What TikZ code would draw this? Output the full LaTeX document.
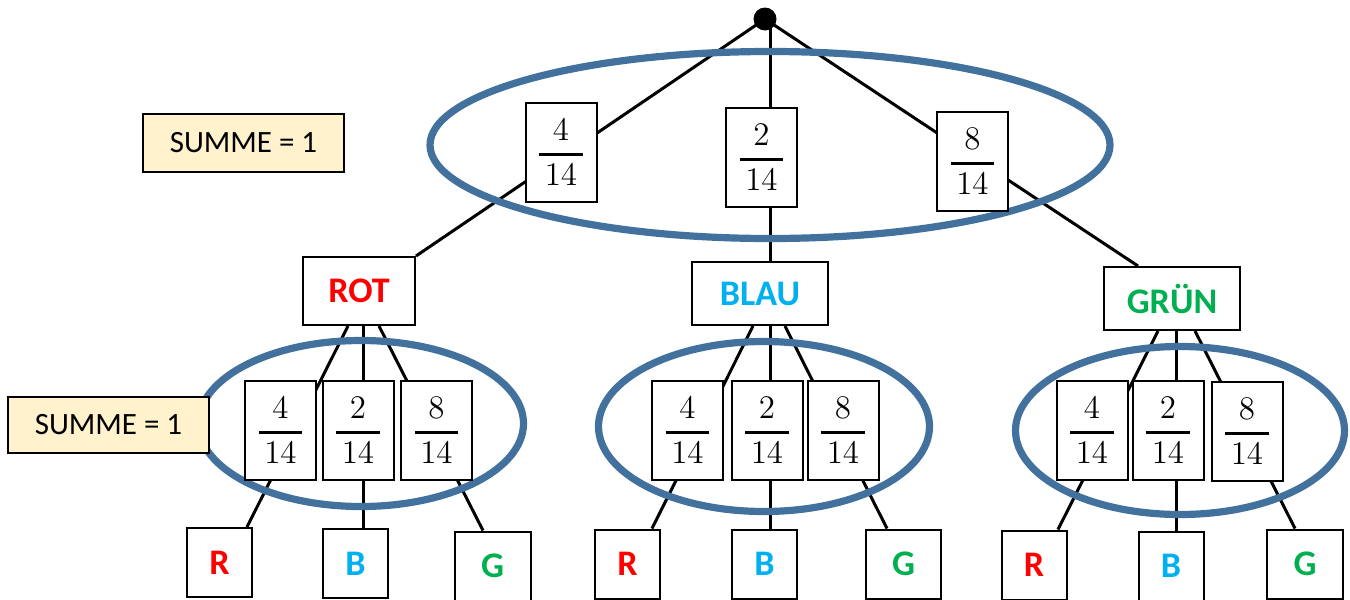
\RequirePackage{fix-cm}
\documentclass[tikz,border=0pt]{standalone}
\usepackage{amsmath}
\usepackage{fontspec}
\setmainfont{Carlito}
\usetikzlibrary{calc}
\pgfdeclarelayer{bg}
\pgfdeclarelayer{mid}
\pgfsetlayers{bg,mid,main}
\definecolor{ellblue}{RGB}{65,113,156}
\definecolor{rotc}{RGB}{255,0,0}
\definecolor{blauc}{RGB}{0,176,240}
\definecolor{gruenc}{RGB}{0,176,80}
\definecolor{sumfill}{RGB}{255,242,204}
\tikzset{
  conn/.style={line width=1.5pt, black},
  ell/.style={line width=3.6pt, ellblue},
  fracbox/.style={draw, line width=1pt, fill=white, minimum width=35.5pt, minimum height=49.5pt, inner sep=0pt, font=\fontsize{16.5}{19}\selectfont},
  labbox/.style={draw, line width=1pt, fill=white, minimum width=68pt, minimum height=31.5pt, inner sep=0pt, font=\fontsize{18}{20}\selectfont\bfseries},
  leafbox/.style={draw, line width=1pt, fill=white, minimum width=32.5pt, minimum height=34.5pt, inner sep=0pt, font=\fontsize{18}{20}\selectfont\bfseries},
  sumbox/.style={draw, line width=1pt, fill=sumfill, minimum width=100.5pt, minimum height=29pt, inner sep=0pt, font=\fontsize{15.5}{18}\selectfont},
  rootdot/.style={circle, fill=black, minimum size=11.5pt, inner sep=0pt}
}
\newcommand{\fr}[2]{$\genfrac{}{}{1.3pt}{0}{\,#1\,}{\,#2\,}$}
\begin{document}
\begin{tikzpicture}[x=0.5pt, y=-0.5pt]
\useasboundingbox (0,0) rectangle (1350,600);

% root
\node[rootdot] (root) at (765,19) {};

% top fractions
\node[fracbox] (t1) at (561,152.5) {\fr{4}{14}};
\node[fracbox] (t2) at (761.5,157.5) {\fr{2}{14}};
\node[fracbox] (t3) at (972.5,161.5) {\fr{8}{14}};

% second level
\node[labbox, minimum width=56pt, minimum height=34pt, text=rotc] (rot) at (359,291) {ROT};
\node[labbox, text=blauc] (blau) at (760,293.5) {BLAU};
\node[labbox, text=gruenc] (gruen) at (1172,298.5) {GRÜN};

% ROT group
\node[fracbox] (r1) at (280.5,430) {\fr{4}{14}};
\node[fracbox] (r2) at (358,430) {\fr{2}{14}};
\node[fracbox] (r3) at (436.5,430) {\fr{8}{14}};
\node[leafbox, text=rotc] (rR) at (219.5,562.5) {R};
\node[leafbox, text=blauc] (rB) at (355.5,563.5) {B};
\node[leafbox, minimum width=38pt, text=gruenc] (rG) at (492.5,566) {G};

% BLAU group
\node[fracbox] (b1) at (687.5,430) {\fr{4}{14}};
\node[fracbox] (b2) at (767,430) {\fr{2}{14}};
\node[fracbox] (b3) at (843,430) {\fr{8}{14}};
\node[leafbox, text=rotc] (bR) at (627.5,564) {R};
\node[leafbox, text=blauc] (bB) at (764.5,564) {B};
\node[leafbox, minimum width=37.5pt, text=gruenc] (bG) at (903.5,564) {G};

% GRUEN group
\node[fracbox] (g1) at (1092,430) {\fr{4}{14}};
\node[fracbox] (g2) at (1168,430) {\fr{2}{14}};
\node[fracbox] (g3) at (1247,431.5) {\fr{8}{14}};
\node[leafbox, text=rotc] (gR) at (1034,565) {R};
\node[leafbox, text=blauc] (gB) at (1171,566) {B};
\node[leafbox, minimum width=38pt, text=gruenc] (gG) at (1305,564) {G};

% sum boxes
\node[sumbox] (s1) at (243.5,142.5) {SUMME = 1};
\node[sumbox, minimum height=28pt] (s2) at (108.5,425) {SUMME = 1};

\begin{pgfonlayer}{bg}
  % top connectors
  \draw[conn] (root.center) -- (rot.north east);
  \draw[conn] ($(root.center)+(5,0)$) -- ($(blau.north)+(10,0)$);
  \draw[conn] (root.center) -- ($(gruen.north)+(-34,0)$);
  % ROT
  \draw[conn] ($(rot.south)+(-11,0)$) -- ($(rR.north)+(27.5,0)$);
  \draw[conn] ($(rot.south)+(4,0)$) -- ($(rB.north)+(7.5,0)$);
  \draw[conn] ($(rot.south)+(20,0)$) -- ($(rG.north)+(-9.5,0)$);
  % BLAU
  \draw[conn] ($(blau.south)+(-7,0)$) -- ($(bR.north)+(24.5,0)$);
  \draw[conn] ($(blau.south)+(10,0)$) -- ($(bB.north)+(5.5,0)$);
  \draw[conn] ($(blau.south)+(25,0)$) -- ($(bG.north)+(-16.5,0)$);
  % GRUEN
  \draw[conn] ($(gruen.south)+(-14,0)$) -- ($(gR.north)+(24,0)$);
  \draw[conn] ($(gruen.south)+(4,0)$) -- ($(gB.north)+(5,0)$);
  \draw[conn] ($(gruen.south)+(23,0)$) -- ($(gG.north)+(-10,0)$);
\end{pgfonlayer}

\begin{pgfonlayer}{mid}
  \draw[ell] (770,145) ellipse [x radius=340, y radius=93.5];
  \draw[ell] (361,423.5) ellipse [x radius=162.5, y radius=83];
  \draw[ell] (764,426.5) ellipse [x radius=165.5, y radius=85];
  \draw[ell] (1180,430.5) ellipse [x radius=164.5, y radius=84];
\end{pgfonlayer}
\end{tikzpicture}
\end{document}
